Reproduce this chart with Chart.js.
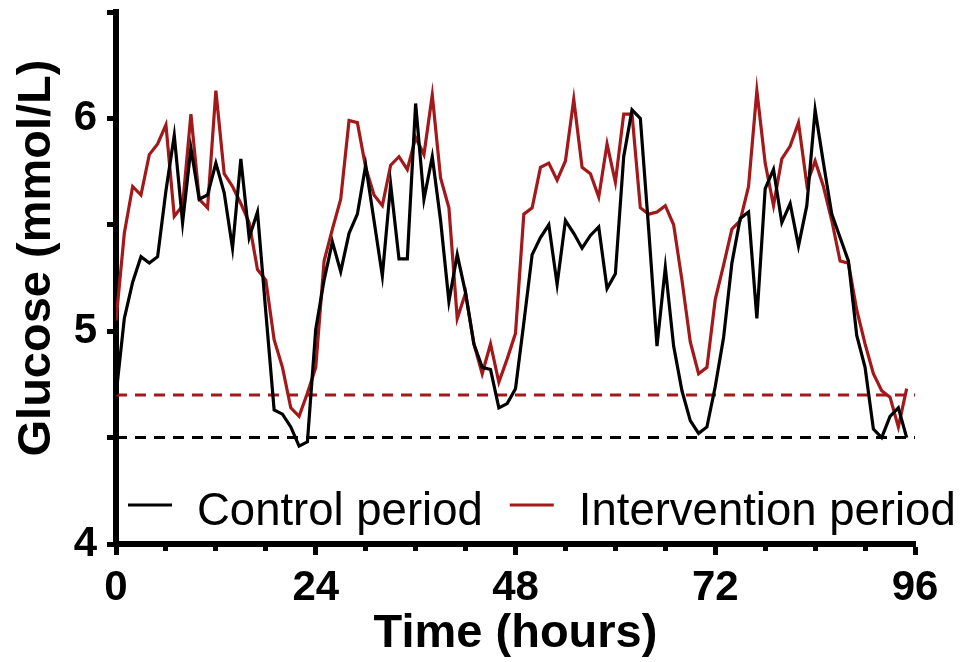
<!DOCTYPE html>
<html>
<head>
<meta charset="utf-8">
<title>Glucose over four days</title>
<script src="https://cdn.jsdelivr.net/npm/chart.js@4.4.1/dist/chart.umd.min.js"></script>
<style>
    html, body { margin: 0; padding: 0; background: #ffffff; }
    #wrap { width: 963px; height: 662px; }
</style>
</head>
<body>
<div id="wrap"><canvas id="glucose-chart" width="963" height="662"></canvas></div>
<script>
// hourly readings, hours 0..95
const hours = Array.from({ length: 96 }, (_, i) => i);

const controlGlucose = [
    4.70, 5.06, 5.23, 5.35, 5.32, 5.35, 5.66, 5.92, 5.51, 5.86, 5.62, 5.64,
    5.79, 5.65, 5.39, 5.81, 5.44, 5.56, 5.09, 4.63, 4.61, 4.55, 4.46, 4.48,
    5.01, 5.24, 5.42, 5.28, 5.46, 5.55, 5.78, 5.52, 5.26, 5.69, 5.34, 5.34,
    6.07, 5.62, 5.82, 5.52, 5.14, 5.36, 5.18, 4.94, 4.83, 4.82, 4.64, 4.66,
    4.73, 5.04, 5.36, 5.44, 5.50, 5.22, 5.52, 5.46, 5.39, 5.45, 5.49, 5.20,
    5.27, 5.82, 6.04, 6.00, 5.48, 4.93, 5.30, 4.93, 4.72, 4.58, 4.52, 4.55,
    4.74, 4.97, 5.32, 5.53, 5.56, 5.06, 5.67, 5.76, 5.51, 5.60, 5.40, 5.59,
    6.04, 5.79, 5.55, 5.44, 5.33, 4.98, 4.83, 4.54, 4.50, 4.60, 4.64, 4.50,
];

const interventionGlucose = [
    5.05, 5.46, 5.68, 5.64, 5.83, 5.88, 5.97, 5.54, 5.59, 6.02, 5.62, 5.58,
    6.13, 5.74, 5.68, 5.60, 5.51, 5.29, 5.24, 4.96, 4.83, 4.64, 4.60, 4.71,
    4.83, 5.33, 5.48, 5.62, 5.99, 5.98, 5.77, 5.64, 5.59, 5.78, 5.82, 5.76,
    5.91, 5.83, 6.11, 5.72, 5.58, 5.06, 5.18, 4.94, 4.80, 4.94, 4.76, 4.87,
    4.99, 5.55, 5.58, 5.77, 5.79, 5.71, 5.80, 6.09, 5.77, 5.74, 5.63, 5.88,
    5.70, 6.02, 6.02, 5.58, 5.55, 5.56, 5.59, 5.50, 5.24, 4.95, 4.80, 4.83,
    5.15, 5.31, 5.48, 5.52, 5.68, 6.13, 5.79, 5.59, 5.81, 5.87, 5.98, 5.69,
    5.80, 5.68, 5.52, 5.33, 5.32, 5.10, 4.94, 4.80, 4.72, 4.69, 4.55, 4.73,
];

// lowest-level reference lines for each period
const controlFloor = 4.5;
const interventionFloor = 4.7;
const floorSpan = [0, 96];

const colors = {
    control: '#000000',
    intervention: '#a3181a',
};

const fontFamily = '"Liberation Sans", Arial, Helvetica, sans-serif';

function toPoints(values) {
    return values.map((y, i) => ({ x: hours[i], y }));
}

function floorLine(value) {
    return floorSpan.map((x) => ({ x, y: value }));
}

// y title and the in-plot legend are placed by hand
const annotations = {
    id: 'annotations',
    afterDraw(chart) {
        const { ctx, chartArea } = chart;

        ctx.save();
        ctx.fillStyle = '#000';
        ctx.font = `bold 47px ${fontFamily}`;
        ctx.textAlign = 'center';
        ctx.textBaseline = 'middle';
        ctx.translate(37, 258);
        ctx.rotate(-Math.PI / 2);
        ctx.fillText('Glucose (mmol/L)', 0, 0);
        ctx.restore();

        ctx.save();
        ctx.font = `45.5px ${fontFamily}`;
        ctx.textBaseline = 'alphabetic';
        ctx.textAlign = 'left';
        let x = chartArea.left + 12;
        const lineY = 505;
        const textY = 525;
        chart.data.datasets.slice(0, 2).forEach((ds) => {
            ctx.strokeStyle = ds.borderColor;
            ctx.lineWidth = 3;
            ctx.beginPath();
            ctx.moveTo(x, lineY);
            ctx.lineTo(x + 44, lineY);
            ctx.stroke();
            x += 44 + 25;
            ctx.fillStyle = '#000';
            ctx.fillText(ds.label, x, textY);
            x += ctx.measureText(ds.label).width + 27;
        });
        ctx.restore();
    },
};

new Chart(document.getElementById('glucose-chart'), {
    type: 'line',
    data: {
        datasets: [
            {
                label: 'Control period',
                data: toPoints(controlGlucose),
                borderColor: colors.control,
                borderWidth: 3.2,
                pointRadius: 0,
                tension: 0,
            },
            {
                label: 'Intervention period',
                data: toPoints(interventionGlucose),
                borderColor: colors.intervention,
                borderWidth: 3.2,
                pointRadius: 0,
                tension: 0,
            },
            {
                label: 'Control floor',
                data: floorLine(controlFloor),
                borderColor: colors.control,
                borderWidth: 3,
                borderDash: [11, 8],
                pointRadius: 0,
            },
            {
                label: 'Intervention floor',
                data: floorLine(interventionFloor),
                borderColor: colors.intervention,
                borderWidth: 3,
                borderDash: [11, 8],
                pointRadius: 0,
            },
        ],
    },
    options: {
        responsive: false,
        animation: false,
        events: [],
        layout: {
            autoPadding: false,
            padding: { left: 0, top: 12, right: 48, bottom: 0 },
        },
        plugins: {
            legend: { display: false },
            tooltip: { enabled: false },
        },
        scales: {
            x: {
                type: 'linear',
                min: 0,
                max: 96,
                afterFit: (scale) => {
                    scale.height = 118;
                    scale.paddingLeft = 0;
                    scale.paddingRight = 0;
                },
                border: { color: '#000', width: 6 },
                grid: {
                    drawOnChartArea: false,
                    tickLength: 11,
                    tickWidth: 5,
                    tickColor: '#000',
                    tickBorderDash: (ctx) => (ctx.tick && ctx.tick.value % 24 !== 0 ? [4, 30] : []),
                },
                ticks: {
                    stepSize: 6,
                    autoSkip: false,
                    maxRotation: 0,
                    padding: 8,
                    color: '#000',
                    font: { family: fontFamily, size: 42, weight: 'bold' },
                    callback: (v) => (v % 24 === 0 ? v : ''),
                },
                title: {
                    display: true,
                    text: 'Time (hours)',
                    color: '#000',
                    font: { family: fontFamily, size: 47, weight: 'bold' },
                    padding: { top: 0, bottom: 0 },
                },
            },
            y: {
                min: 4,
                max: 6.5,
                afterFit: (scale) => {
                    scale.width = 116;
                    scale.paddingTop = 0;
                    scale.paddingBottom = 0;
                },
                border: { color: '#000', width: 6 },
                grid: {
                    drawOnChartArea: false,
                    tickLength: 9,
                    tickWidth: 5,
                    tickColor: '#000',
                },
                ticks: {
                    stepSize: 0.5,
                    autoSkip: false,
                    padding: 10,
                    color: '#000',
                    font: { family: fontFamily, size: 42, weight: 'bold' },
                    callback: (v) => (Number.isInteger(v) ? v : ''),
                },
            },
        },
    },
    plugins: [annotations],
});
</script>
</body>
</html>
